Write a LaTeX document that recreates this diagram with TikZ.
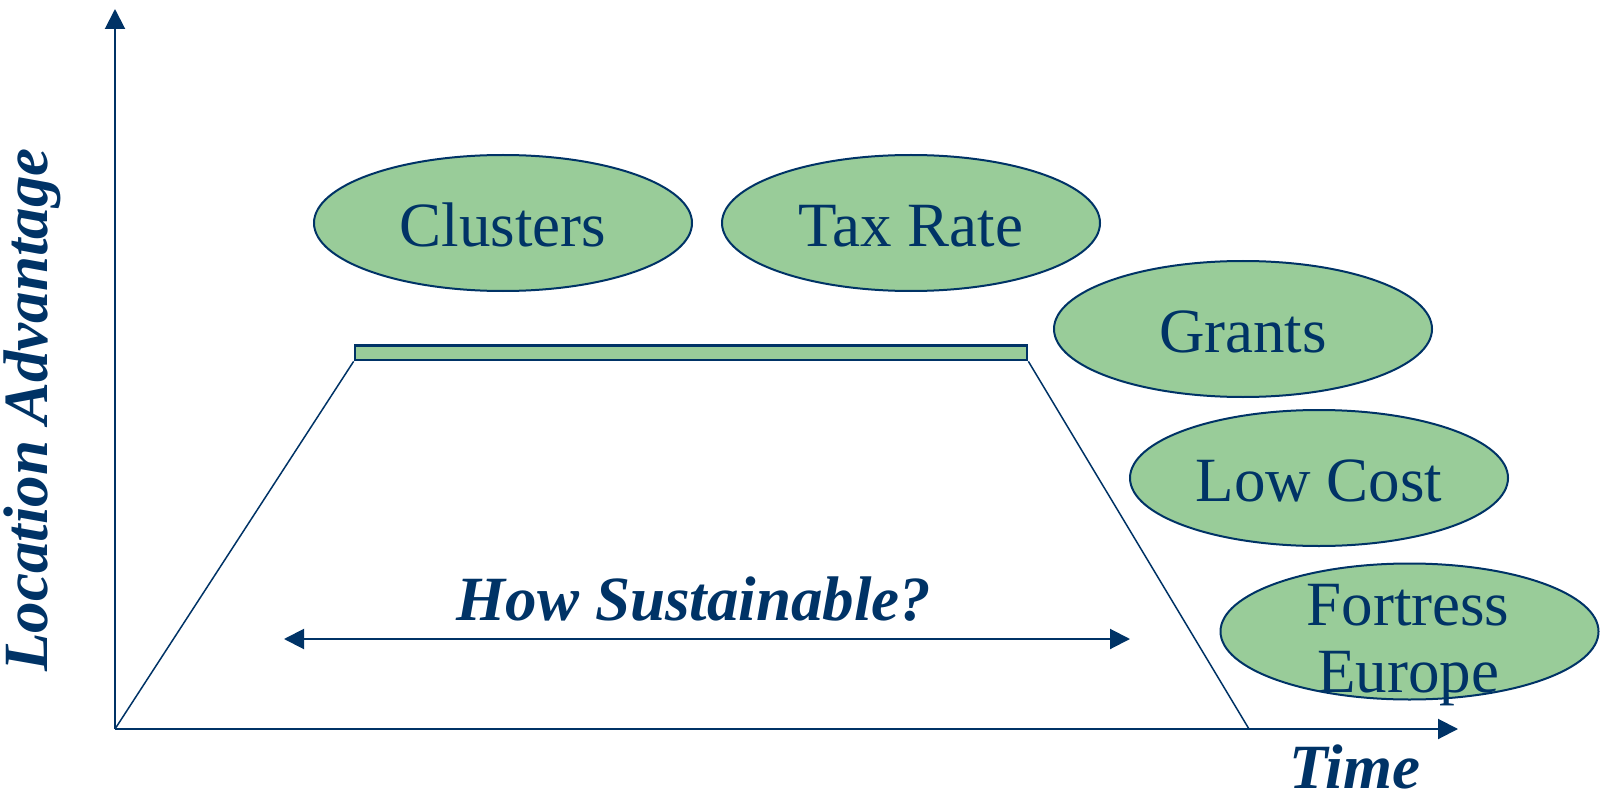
\documentclass[tikz,border=0pt]{standalone}
\usepackage{fontspec}
\setmainfont{Liberation Serif}
\usetikzlibrary{arrows.meta,shapes.geometric}
\definecolor{navy}{RGB}{0,51,102}
\definecolor{leaf}{RGB}{153,204,153}
\tikzset{
  axisline/.style={draw=navy, line width=2pt, -{Triangle[length=20pt,width=20pt]}},
  thinline/.style={draw=navy, line width=1.5pt},
  bubble/.style={ellipse, draw=navy, line width=2pt, fill=leaf, minimum width=378pt, minimum height=136pt, inner sep=0pt},
  lbl/.style={text=navy, font=\fontsize{63}{67}\selectfont, inner sep=0pt, anchor=base},
  blbl/.style={lbl, font=\fontsize{63}{67}\selectfont\bfseries\itshape},
}
\begin{document}
\begin{tikzpicture}[x=1pt, y=-1pt]
\useasboundingbox (0,0) rectangle (1608,794);
\coordinate (O) at (115,729);
\coordinate (Ytop) at (115,9);
\coordinate (Xend) at (1458,729);
\coordinate (R) at (1249,729);
\coordinate (AL) at (284,639);
\coordinate (AR) at (1130,639);
% axes
\draw[axisline] (O) -- (Ytop);
\draw[axisline] (O) -- (Xend);
% plateau bar
\node[draw=navy, line width=2.7pt, fill=leaf, rectangle, minimum width=672pt, minimum height=14.5pt, inner sep=0pt] (bar) at (691,352.75) {};
\draw[thinline] (O) -- (bar.south west);
\draw[thinline] (bar.south east) -- (R);
% double arrow
\draw[draw=navy, line width=2pt, {Triangle[length=20pt,width=20pt]}-{Triangle[length=20pt,width=20pt]}] (AL) -- (AR);
\node[blbl] (how) at (694,620) {How Sustainable?};
% ellipses
\node[bubble] (clusters) at (503,223) {};
\node[lbl] (clustersT) at (503,247) {Clusters};
\node[bubble] (tax) at (911,223) {};
\node[lbl] (taxT) at (911,247) {Tax Rate};
\node[bubble] (grants) at (1243,329) {};
\node[lbl] (grantsT) at (1243,352) {Grants};
\node[bubble] (low) at (1319,478) {};
\node[lbl] (lowT) at (1319,501) {Low Cost};
\node[bubble] (fortress) at (1409.5,631.5) {};
\node[lbl] (fortT) at (1408,625) {Fortress};
\node[lbl] (eurT) at (1408,692) {Europe};
% axis labels
\node[blbl, rotate=90] (ylab) at (47,410) {Location Advantage};
\node[blbl] (xlab) at (1355,788) {Time};
\end{tikzpicture}
\end{document}
